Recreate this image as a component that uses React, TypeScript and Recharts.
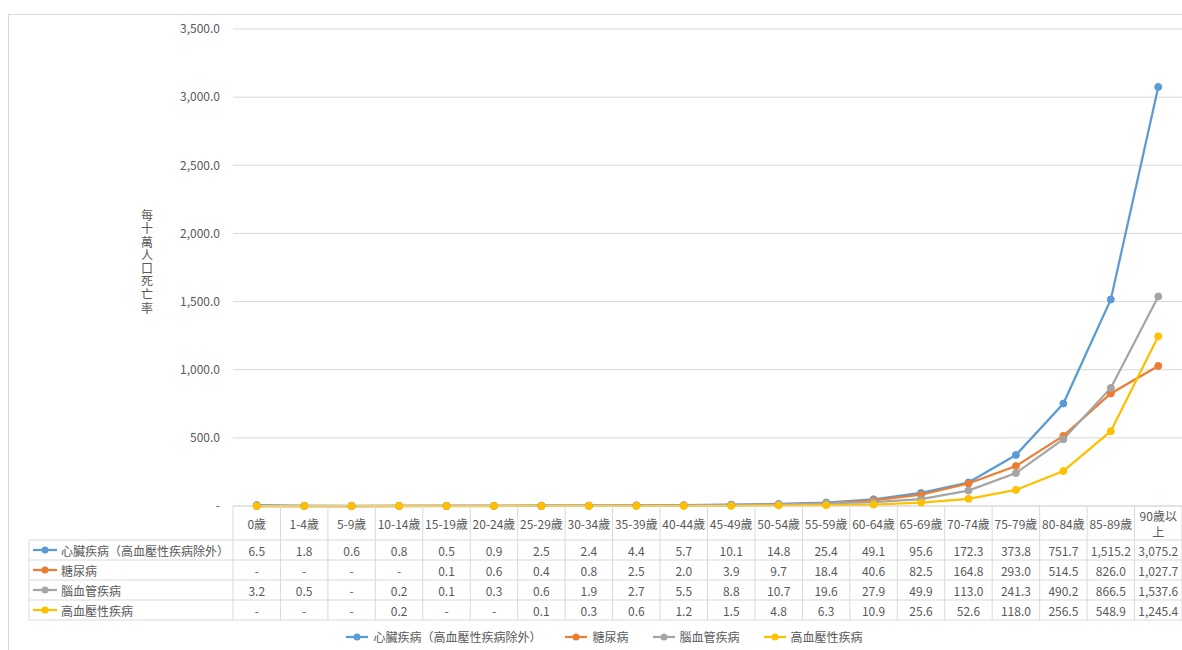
import React from "react";
import { LineChart, Line, XAxis, YAxis, CartesianGrid, Legend } from "recharts";

const ageGroups = [
  "0歲", "1-4歲", "5-9歲", "10-14歲", "15-19歲", "20-24歲", "25-29歲", "30-34歲",
  "35-39歲", "40-44歲", "45-49歲", "50-54歲", "55-59歲", "60-64歲", "65-69歲",
  "70-74歲", "75-79歲", "80-84歲", "85-89歲", "90歲以上",
];

// "-" in the source table is zero
const heartDisease = [6.5, 1.8, 0.6, 0.8, 0.5, 0.9, 2.5, 2.4, 4.4, 5.7, 10.1, 14.8, 25.4, 49.1, 95.6, 172.3, 373.8, 751.7, 1515.2, 3075.2];
const diabetes = [0, 0, 0, 0, 0.1, 0.6, 0.4, 0.8, 2.5, 2.0, 3.9, 9.7, 18.4, 40.6, 82.5, 164.8, 293.0, 514.5, 826.0, 1027.7];
const cerebrovascular = [3.2, 0.5, 0, 0.2, 0.1, 0.3, 0.6, 1.9, 2.7, 5.5, 8.8, 10.7, 19.6, 27.9, 49.9, 113.0, 241.3, 490.2, 866.5, 1537.6];
const hypertension = [0, 0, 0, 0.2, 0, 0, 0.1, 0.3, 0.6, 1.2, 1.5, 4.8, 6.3, 10.9, 25.6, 52.6, 118.0, 256.5, 548.9, 1245.4];

const yTicks = [0, 500, 1000, 1500, 2000, 2500, 3000, 3500];
const yTitle = "每十萬人口死亡率";

const series = [
  { key: "heart", name: "心臟疾病（高血壓性疾病除外）", color: "#5B9BD5", values: heartDisease },
  { key: "diabetes", name: "糖尿病", color: "#ED7D31", values: diabetes },
  { key: "cerebro", name: "腦血管疾病", color: "#A5A5A5", values: cerebrovascular },
  { key: "hyper", name: "高血壓性疾病", color: "#FFC000", values: hypertension },
];

const data = ageGroups.map((age, i) => {
  const row: Record<string, string | number> = { age };
  series.forEach((s) => (row[s.key] = s.values[i]));
  return row;
});

const FONT = "'Noto Sans CJK TC', 'Noto Sans', sans-serif";
const TEXT = "#595959";
const GRID = "#D9D9D9";

const CHART_W = 1174;
const CHART_H = 642;
const Y_AXIS_W = 225;
const PLOT_W = CHART_W - Y_AXIS_W;
const COL_W = PLOT_W / ageGroups.length;
const HEADER_H = 34;
const ROW_H = 20;
const LABEL_W = 204;

const fmt = (v: number) =>
  v === 0 ? "-" : v.toLocaleString("en-US", { minimumFractionDigits: 1, maximumFractionDigits: 1 });

// rough width so long headers wrap like Excel does
const textW = (s: string) =>
  Array.from(s).reduce((w, ch) => w + (ch.charCodeAt(0) > 255 ? 12 : 6), 0);

function wrapLabel(label: string) {
  if (textW(label) <= COL_W - 4) return [label];
  const lines: string[] = [];
  let cur = "";
  for (const ch of Array.from(label)) {
    if (textW(cur + ch) > COL_W - 8) {
      lines.push(cur);
      cur = ch;
    } else cur += ch;
  }
  if (cur) lines.push(cur);
  return lines;
}

function LegendIcon({ color, x, y, w }: { color: string; x: number; y: number; w: number }) {
  return (
    <g>
      <line x1={x} y1={y} x2={x + w} y2={y} stroke={color} strokeWidth={2.25} />
      <circle cx={x + w / 2} cy={y} r={3.5} fill={color} />
    </g>
  );
}

// each x tick draws one column of the data table under the plot
function TableTick(props: any) {
  const { x, y, payload, index } = props;
  const left = x - COL_W / 2;
  const right = x + COL_W / 2;
  const bottom = y + HEADER_H + ROW_H * series.length;
  const lines = wrapLabel(String(payload.value));
  const common = { fontFamily: FONT, fontSize: 12, fill: TEXT, textAnchor: "middle" as const, dominantBaseline: "central" as const };

  return (
    <g>
      {index === 0 && (
        <g>
          <line x1={left} y1={y} x2={left} y2={bottom} stroke={GRID} />
          <line x1={left - LABEL_W} y1={y + HEADER_H} x2={left - LABEL_W} y2={bottom} stroke={GRID} />
          {series.map((s, r) => {
            const cy = y + HEADER_H + r * ROW_H + ROW_H / 2;
            return (
              <g key={s.key}>
                <line x1={left - LABEL_W} y1={y + HEADER_H + r * ROW_H} x2={left} y2={y + HEADER_H + r * ROW_H} stroke={GRID} />
                <LegendIcon color={s.color} x={left - LABEL_W + 4} y={cy} w={24} />
                <text x={left - LABEL_W + 32} y={cy} fontFamily={FONT} fontSize={12} fill={TEXT} dominantBaseline="central">
                  {s.name}
                </text>
              </g>
            );
          })}
          <line x1={left - LABEL_W} y1={bottom} x2={left} y2={bottom} stroke={GRID} />
        </g>
      )}
      <line x1={right} y1={y} x2={right} y2={bottom} stroke={GRID} />
      {lines.map((ln, i) => (
        <text key={i} x={x} {...common} y={y + HEADER_H / 2 + (i - (lines.length - 1) / 2) * 16}>
          {ln}
        </text>
      ))}
      {series.map((s, r) => (
        <g key={s.key}>
          <line x1={left} y1={y + HEADER_H + r * ROW_H} x2={right} y2={y + HEADER_H + r * ROW_H} stroke={GRID} />
          <text x={x} y={y + HEADER_H + r * ROW_H + ROW_H / 2} {...common}>
            {fmt(s.values[index])}
          </text>
        </g>
      ))}
      <line x1={left} y1={bottom} x2={right} y2={bottom} stroke={GRID} />
    </g>
  );
}

// stacked (vertical writing) axis title
function VerticalTitle(props: any) {
  const vb = props.viewBox || {};
  const cx = vb.x + vb.width - 86;
  const cy = vb.y + vb.height / 2 - 5;
  return (
    <text
      x={cx}
      y={cy}
      fontFamily={FONT}
      fontSize={12}
      fill={TEXT}
      textAnchor="middle"
      letterSpacing={1.2}
      style={{ writingMode: "vertical-rl" }}
    >
      {yTitle}
    </text>
  );
}

function BottomLegend() {
  return (
    <div
      style={{
        height: 30,
        paddingTop: 3,
        boxSizing: "border-box",
        display: "flex",
        justifyContent: "center",
        alignItems: "center",
        paddingLeft: 43,
        fontFamily: FONT,
        fontSize: 12,
        color: TEXT,
      }}
    >
      {series.map((s) => (
        <span key={s.key} style={{ display: "flex", alignItems: "center", marginRight: 24 }}>
          <svg width={22} height={10}>
            <LegendIcon color={s.color} x={0} y={5} w={22} />
          </svg>
          <span style={{ marginLeft: 5 }}>{s.name}</span>
        </span>
      ))}
    </div>
  );
}

export default function App() {
  return (
    <div style={{ position: "absolute", top: 8, left: 8, width: CHART_W, height: CHART_H, overflow: "hidden" }}>
      <div
        style={{
          position: "absolute",
          top: 6,
          left: 0,
          right: -10,
          bottom: -10,
          borderTop: `1px solid ${GRID}`,
          borderLeft: `1px solid ${GRID}`,
        }}
      />
      <LineChart
        width={CHART_W}
        height={CHART_H}
        data={data}
        margin={{ top: 21, right: 0, left: 0, bottom: 0 }}
      >
        <CartesianGrid vertical={false} stroke={GRID} />
        <XAxis
          dataKey="age"
          interval={0}
          height={HEADER_H + ROW_H * series.length}
          padding={{ left: COL_W / 2, right: COL_W / 2 }}
          tickLine={false}
          tickSize={0}
          tickMargin={0}
          axisLine={{ stroke: GRID }}
          tick={<TableTick />}
        />
        <YAxis
          width={Y_AXIS_W}
          domain={[0, 3500]}
          ticks={yTicks}
          interval={0}
          tickLine={false}
          axisLine={false}
          tickMargin={7}
          tick={{ fill: TEXT, fontSize: 12, fontFamily: FONT }}
          tickFormatter={fmt}
          label={{ content: <VerticalTitle /> }}
        />
        <Legend verticalAlign="bottom" content={<BottomLegend />} />
        {series.map((s) => (
          <Line
            key={s.key}
            type="linear"
            dataKey={s.key}
            name={s.name}
            stroke={s.color}
            strokeWidth={2.25}
            dot={{ r: 3.5, fill: s.color, stroke: s.color, strokeWidth: 1 }}
            activeDot={false}
            isAnimationActive={false}
          />
        ))}
      </LineChart>
    </div>
  );
}
